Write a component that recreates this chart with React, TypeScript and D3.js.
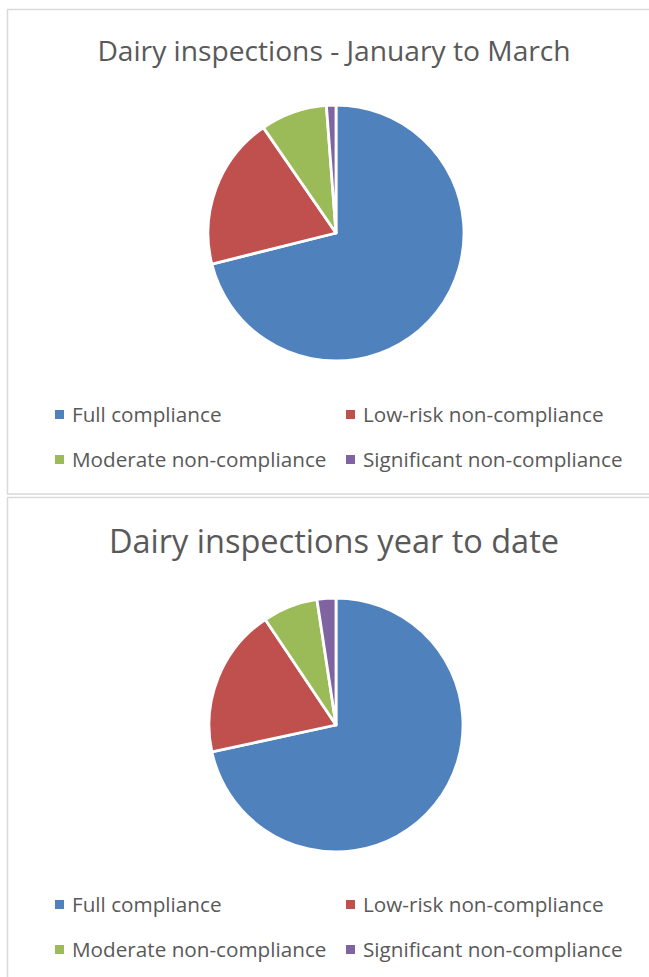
import React, { useEffect, useRef } from 'react';
import * as d3 from 'd3';

const categories = ['Full compliance', 'Low-risk non-compliance', 'Moderate non-compliance', 'Significant non-compliance'];
const colors = ['#4F81BD', '#C0504D', '#9BBB59', '#8064A2'];
const quarterValues = [71.1, 19.3, 8.4, 1.2];
const yearValues = [71.6, 19.0, 7.0, 2.4];
const titles = ['Dairy inspections - January to March', 'Dairy inspections year to date'];

const W = 649, H = 977;

function App() {
  const ref = useRef<SVGSVGElement>(null);

  useEffect(() => {
    const svg = d3.select(ref.current);
    svg.selectAll('*').remove();

    const panels = [
      { top: 9.5, bottom: 494, values: quarterValues, title: titles[0], titleSize: 28.2, titleY: 61, cy: 233, r: 128, legendY: 422 },
      { top: 497.5, bottom: 990, values: yearValues, title: titles[1], titleSize: 32.5, titleY: 553, cy: 725, r: 127, legendY: 912 },
    ];

    const pie = d3.pie<number>().sort(null).value(d => d);

    panels.forEach(p => {
      svg.append('rect')
        .attr('x', 7.5)
        .attr('y', p.top)
        .attr('width', 700)
        .attr('height', p.bottom - p.top)
        .attr('fill', '#fff')
        .attr('stroke', '#d9d9d9')
        .attr('stroke-width', 1.5);

      svg.append('text')
        .attr('x', 334)
        .attr('y', p.titleY)
        .attr('text-anchor', 'middle')
        .style('font-family', '"Open Sans", sans-serif')
        .style('font-size', `${p.titleSize}px`)
        .attr('fill', '#595959')
        .text(p.title);

      const arc = d3.arc<d3.PieArcDatum<number>>().innerRadius(0).outerRadius(p.r);
      const g = svg.append('g').attr('transform', `translate(336, ${p.cy})`);
      g.selectAll('path')
        .data(pie(p.values))
        .join('path')
        .attr('d', arc)
        .attr('fill', (d, i) => colors[i])
        .attr('stroke', '#fff')
        .attr('stroke-width', 2.8)
        .attr('stroke-linejoin', 'round');

      // legend, 2 columns
      const cols = [55, 346];
      categories.forEach((c, i) => {
        const x = cols[i % 2];
        const y = p.legendY + Math.floor(i / 2) * 45;
        svg.append('rect')
          .attr('x', x)
          .attr('y', y - 12)
          .attr('width', 9)
          .attr('height', 9)
          .attr('fill', colors[i]);
        svg.append('text')
          .attr('x', x + 17)
          .attr('y', y)
          .style('font-family', '"Open Sans", sans-serif')
          .style('font-size', '20.7px')
          .attr('fill', '#595959')
          .text(c);
      });
    });
  }, []);

  return (
    <svg ref={ref} width={W} height={H} style={{ position: 'absolute', left: 0, top: 0, background: '#fff' }}></svg>
  );
}

export default App;
